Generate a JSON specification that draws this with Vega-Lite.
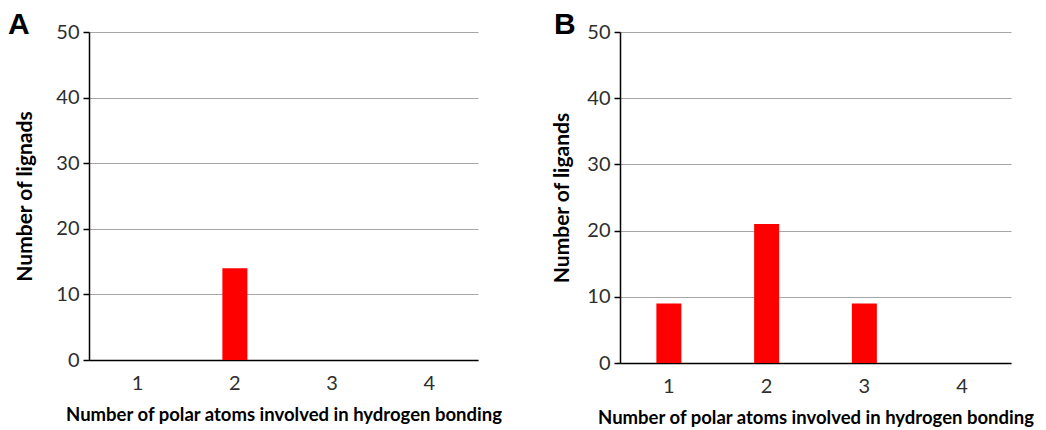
{
  "$schema": "https://vega.github.io/schema/vega-lite/v6.json",
  "background": "white",
  "padding": {"left": 8, "top": 10, "right": 0, "bottom": 0},
  "spacing": 49,
  "config": {
    "font": "Lato",
    "view": {"stroke": null},
    "axisY": {
      "grid": true,
      "gridColor": "#a6a6a6",
      "gridWidth": 1.2,
      "domainColor": "black",
      "domainWidth": 1.5,
      "tickColor": "black",
      "tickWidth": 1.5,
      "tickSize": 6,
      "labelFontSize": 20,
      "labelColor": "#2e2e2e",
      "labelPadding": 4,
      "titleFontSize": 21,
      "titleFontWeight": "bold",
      "titleColor": "black",
      "titlePadding": 20
    },
    "axisX": {
      "domainColor": "black",
      "domainWidth": 1.5,
      "ticks": false,
      "labelAngle": 0,
      "labelFontSize": 20,
      "labelColor": "#2e2e2e",
      "labelPadding": 13,
      "titleFontSize": 18.5,
      "titleFontWeight": "bold",
      "titleColor": "black",
      "titlePadding": 12
    },
    "title": {"font": "Liberation Sans", "fontSize": 30, "fontWeight": "bold", "color": "black", "anchor": "start", "frame": "group", "baseline": "top"}
  },
  "datasets": {
    "A": [
      {"atoms": "1", "ligands": 0},
      {"atoms": "2", "ligands": 14},
      {"atoms": "3", "ligands": 0},
      {"atoms": "4", "ligands": 0}
    ],
    "B": [
      {"atoms": "1", "ligands": 9},
      {"atoms": "2", "ligands": 21},
      {"atoms": "3", "ligands": 9},
      {"atoms": "4", "ligands": 0}
    ]
  },
  "hconcat": [
    {
      "title": {"text": "A", "dx": -81, "offset": -18},
      "width": 389,
      "height": 328,
      "data": {"name": "A"},
      "mark": {"type": "bar", "color": "#ff0000", "size": 25},
      "encoding": {
        "x": {"field": "atoms", "type": "ordinal", "scale": {"domain": ["1", "2", "3", "4"], "paddingInner": 0, "paddingOuter": 0}, "title": "Number of polar atoms involved in hydrogen bonding"},
        "y": {"field": "ligands", "type": "quantitative", "scale": {"domain": [0, 50]}, "axis": {"values": [0, 10, 20, 30, 40, 50]}, "title": "Number of lignads"}
      }
    },
    {
      "title": {"text": "B", "dx": -66, "offset": -18},
      "width": 391,
      "height": 331,
      "data": {"name": "B"},
      "mark": {"type": "bar", "color": "#ff0000", "size": 25},
      "encoding": {
        "x": {"field": "atoms", "type": "ordinal", "scale": {"domain": ["1", "2", "3", "4"], "paddingInner": 0, "paddingOuter": 0}, "title": "Number of polar atoms involved in hydrogen bonding"},
        "y": {"field": "ligands", "type": "quantitative", "scale": {"domain": [0, 50]}, "axis": {"values": [0, 10, 20, 30, 40, 50], "titlePadding": 14}, "title": "Number of ligands"}
      }
    }
  ]
}
